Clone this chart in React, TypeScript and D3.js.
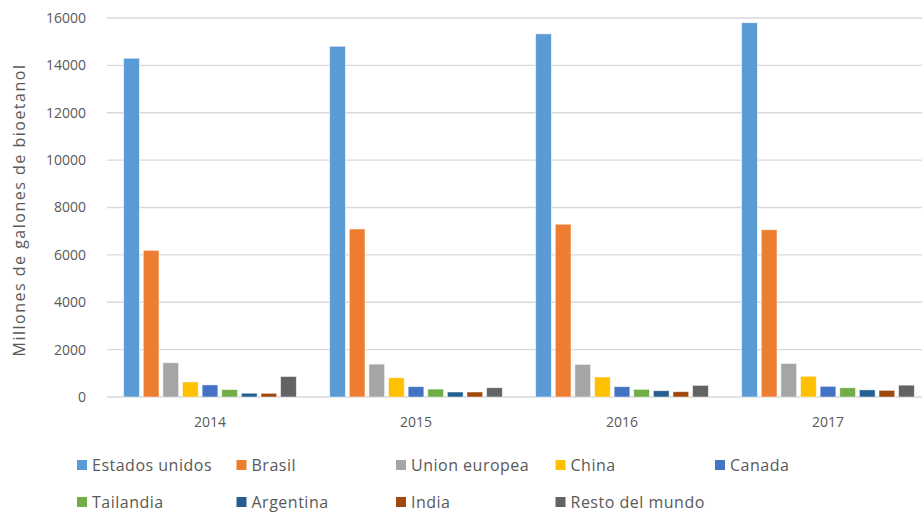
import React, { useRef, useEffect } from "react";
import * as d3 from "d3";

const years = ["2014", "2015", "2016", "2017"];
const seriesNames = [
  "Estados unidos",
  "Brasil",
  "Union europea",
  "China",
  "Canada",
  "Tailandia",
  "Argentina",
  "India",
  "Resto del mundo",
];
const colors = ["#5B9BD5", "#ED7D31", "#A5A5A5", "#FFC000", "#4472C4", "#70AD47", "#255E91", "#9E480E", "#636363"];

// values per year, one per country (in series order)
const values2014 = [14300, 6190, 1445, 635, 510, 310, 160, 155, 865];
const values2015 = [14806, 7093, 1387, 813, 436, 334, 211, 211, 391];
const values2016 = [15330, 7295, 1377, 845, 436, 322, 264, 225, 490];
const values2017 = [15800, 7060, 1415, 875, 450, 390, 300, 280, 500];
const valuesByYear = [values2014, values2015, values2016, values2017];

const yTicks = [0, 2000, 4000, 6000, 8000, 10000, 12000, 14000, 16000];

const W = 922;
const H = 513;

export default function App() {
  const svgRef = useRef<SVGSVGElement>(null);

  useEffect(() => {
    const svg = d3.select(svgRef.current);
    svg.selectAll("*").remove();

    const font = "'Open Sans', sans-serif";
    const textColor = "#595959";

    const x0 = d3.scaleBand().domain(years).range([107, 931]).paddingInner(0).paddingOuter(0);
    const x1 = d3
      .scaleBand()
      .domain(seriesNames)
      .range([0, x0.bandwidth()])
      .paddingInner(0.2)
      .paddingOuter(0.85);
    const y = d3.scaleLinear().domain([0, 16000]).range([397, 18]);

    // gridlines
    svg
      .append("g")
      .selectAll("line")
      .data(yTicks)
      .enter()
      .append("line")
      .attr("x1", 107)
      .attr("x2", W)
      .attr("y1", (d) => y(d))
      .attr("y2", (d) => y(d))
      .attr("stroke", "#d9d9d9")
      .attr("stroke-width", 1.3);

    // y tick labels
    svg
      .append("g")
      .selectAll("text")
      .data(yTicks)
      .enter()
      .append("text")
      .attr("x", 86)
      .attr("y", (d) => y(d))
      .attr("dy", "0.35em")
      .attr("text-anchor", "end")
      .attr("fill", textColor)
      .style("font-family", font)
      .style("font-size", "14px")
      .text((d) => d);

    // y axis title
    svg
      .append("text")
      .attr("transform", "translate(25, 210) rotate(-90)")
      .attr("text-anchor", "middle")
      .attr("fill", textColor)
      .style("font-family", font)
      .style("font-size", "16px")
      .style("letter-spacing", "1.5px")
      .text("Millones de galones de bioetanol");

    // bars
    const groups = svg
      .append("g")
      .selectAll("g")
      .data(years)
      .enter()
      .append("g")
      .attr("transform", (d) => `translate(${x0(d)},0)`);

    groups
      .selectAll("rect")
      .data((d, i) => valuesByYear[i].map((v, j) => ({ name: seriesNames[j], value: v, color: colors[j] })))
      .enter()
      .append("rect")
      .attr("x", (d) => x1(d.name)!)
      .attr("width", x1.bandwidth())
      .attr("y", (d) => y(d.value))
      .attr("height", (d) => y(0) - y(d.value))
      .attr("fill", (d) => d.color)
      .attr("stroke", "#ffffff")
      .attr("stroke-opacity", 0.6)
      .attr("stroke-width", 0.8);

    // x labels
    svg
      .append("g")
      .selectAll("text")
      .data(years)
      .enter()
      .append("text")
      .attr("x", (d) => x0(d)! + x0.bandwidth() / 2)
      .attr("y", 422)
      .attr("dy", "0.35em")
      .attr("text-anchor", "middle")
      .attr("fill", textColor)
      .style("font-family", font)
      .style("font-size", "14px")
      .text((d) => d);

    // legend
    const legend = svg.append("g");
    const legendItems = legend
      .selectAll("g")
      .data(seriesNames)
      .enter()
      .append("g")
      .attr("transform", (d, i) => {
        const col = i % 5;
        const row = Math.floor(i / 5);
        return `translate(${77 + col * 159.5},${465 + row * 37})`;
      });

    legendItems
      .append("rect")
      .attr("x", 0)
      .attr("y", -5)
      .attr("width", 10)
      .attr("height", 10)
      .attr("fill", (d, i) => colors[i]);

    legendItems
      .append("text")
      .attr("x", 15)
      .attr("y", 0)
      .attr("dy", "0.35em")
      .attr("fill", textColor)
      .style("font-family", font)
      .style("font-size", "16px")
      .style("letter-spacing", "0.5px")
      .text((d) => d);
  }, []);

  return (
    <svg
      ref={svgRef}
      width={W}
      height={H}
      style={{ position: "absolute", left: 0, top: 0, background: "#ffffff" }}
    ></svg>
  );
}
